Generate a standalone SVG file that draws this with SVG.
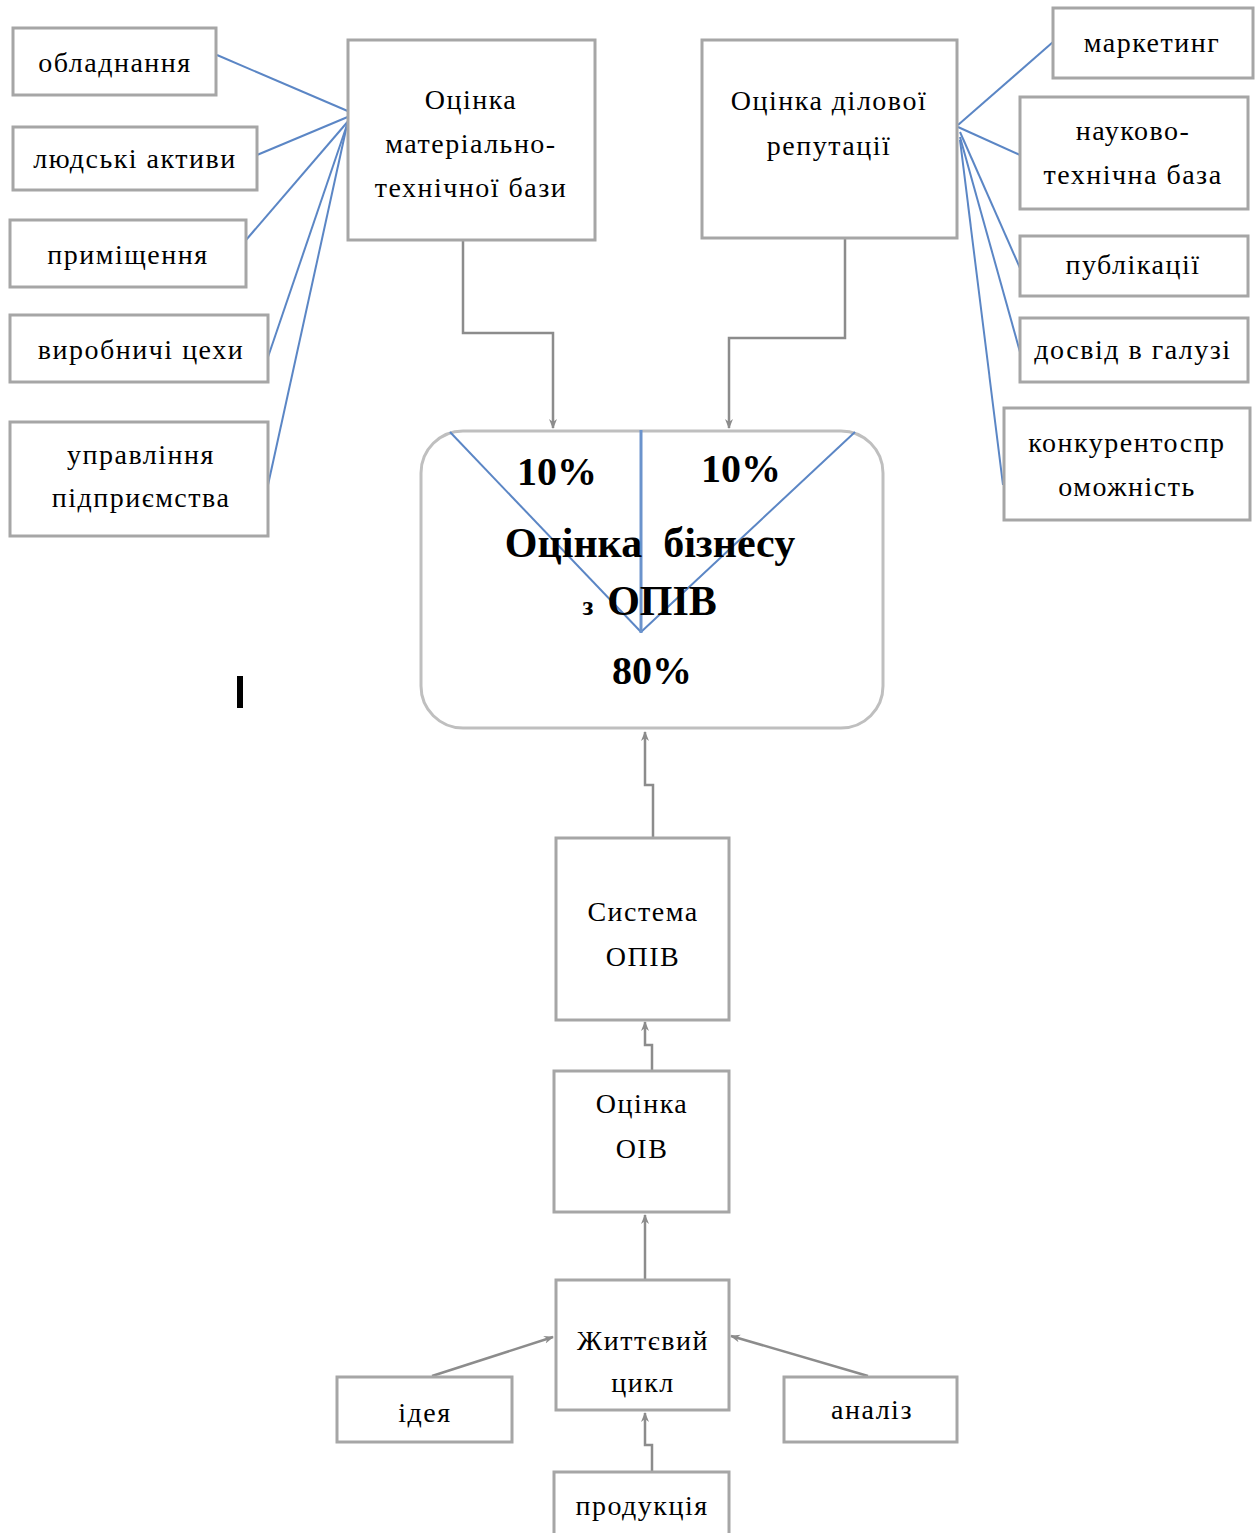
<svg xmlns="http://www.w3.org/2000/svg" width="1259" height="1533" viewBox="0 0 1259 1533">
<style>
.box{fill:#fff;stroke:#a6a6a6;stroke-width:3}
.t{font-family:"Liberation Serif","Times New Roman",serif;font-size:28px;letter-spacing:1.5px;fill:#000;text-anchor:middle}
.b{font-family:"Liberation Serif","Times New Roman",serif;font-weight:bold;fill:#000;text-anchor:middle}
.con{fill:none;stroke:#808080;stroke-width:3}
.arr{fill:none;stroke:#8c8c8c;stroke-width:2.5;marker-end:url(#ah)}
.blue{fill:none;stroke:#5b86c5;stroke-width:2}
</style>
<defs>
<marker id="ah" viewBox="0 0 10 10" refX="9" refY="5" markerWidth="4" markerHeight="4" orient="auto" markerUnits="strokeWidth">
<path d="M0,1 L10,5 L0,9 L3,5 z" fill="#8c8c8c"/>
</marker>
</defs>
<rect width="1259" height="1533" fill="#fff"/>

<g id="connectors">
<polyline class="arr" points="463,241 463,333 553,333 553,428"/>
<polyline class="arr" points="845,239 845,338 729,338 729,428"/>
<polyline class="arr" points="653,838 653,785 645,785 645,732"/>
<polyline class="arr" points="652,1071 652,1045 645,1045 645,1022"/>
<polyline class="arr" points="645,1280 645,1215"/>
<polyline class="arr" points="432,1376 553,1337"/>
<polyline class="arr" points="868,1376 731,1336"/>
<polyline class="arr" points="652,1472 652,1445 645,1445 645,1413"/>
<g id="fan-left">
<line class="blue" x1="217" y1="55" x2="350" y2="112"/>
<line class="blue" x1="257" y1="155" x2="350" y2="116"/>
<line class="blue" x1="246" y1="240" x2="350" y2="119"/>
<line class="blue" x1="268" y1="357" x2="348" y2="122"/>
<line class="blue" x1="268" y1="485" x2="347" y2="125"/>
</g>
<g id="fan-right">
<line class="blue" x1="1053" y1="42" x2="958" y2="125"/>
<line class="blue" x1="1020" y1="155" x2="958" y2="127"/>
<line class="blue" x1="1020" y1="268" x2="960" y2="132"/>
<line class="blue" x1="1020" y1="352" x2="960" y2="137"/>
<line class="blue" x1="1003" y1="485" x2="960" y2="140"/>
</g>
</g>

<g id="n-obladnannia"><rect class="box" x="13" y="28" width="203" height="67"/><text class="t" x="115" y="72">обладнання</text></g>
<g id="n-liudski"><rect class="box" x="13" y="127" width="244" height="63"/><text class="t" x="135" y="168">людські активи</text></g>
<g id="n-prymishchennia"><rect class="box" x="10" y="220" width="236" height="67"/><text class="t" x="128" y="264">приміщення</text></g>
<g id="n-vyrobnychi"><rect class="box" x="10" y="315" width="258" height="67"/><text class="t" x="141" y="359">виробничі цехи</text></g>
<g id="n-upravlinnia"><rect class="box" x="10" y="422" width="258" height="114"/><text class="t" x="141" y="464">управління</text><text class="t" x="141" y="507">підприємства</text></g>

<g id="n-mat-tekh"><rect class="box" x="348" y="40" width="247" height="200"/><text class="t" x="471" y="109">Оцінка</text><text class="t" x="471" y="153">матеріально-</text><text class="t" x="471" y="197">технічної бази</text></g>
<g id="n-dilova"><rect class="box" x="702" y="40" width="255" height="198"/><text class="t" x="829" y="110">Оцінка ділової</text><text class="t" x="829" y="155">репутації</text></g>

<g id="n-marketynh"><rect class="box" x="1053" y="8" width="200" height="70"/><text class="t" x="1152" y="52">маркетинг</text></g>
<g id="n-naukovo"><rect class="box" x="1020" y="97" width="228" height="112"/><text class="t" x="1133" y="140">науково-</text><text class="t" x="1133" y="184">технічна база</text></g>
<g id="n-publikatsii"><rect class="box" x="1020" y="236" width="228" height="60"/><text class="t" x="1133" y="274">публікації</text></g>
<g id="n-dosvid"><rect class="box" x="1020" y="318" width="228" height="64"/><text class="t" x="1133" y="359">досвід в галузі</text></g>
<g id="n-konkurento"><rect class="box" x="1004" y="408" width="246" height="112"/><text class="t" x="1127" y="452">конкурентоспр</text><text class="t" x="1127" y="496">оможність</text></g>

<g id="n-otsinka-biznesu">
<rect x="421" y="431" width="462" height="297" rx="42" fill="#fff" stroke="#bfbfbf" stroke-width="3"/>
<line class="blue" x1="450" y1="432" x2="641" y2="632"/>
<line class="blue" x1="855" y1="432" x2="641" y2="632"/>
<line x1="641" y1="430" x2="641" y2="633" stroke="#6b93cc" stroke-width="3"/>
<text class="b" x="557" y="485" font-size="40">10%</text>
<text class="b" x="741" y="482" font-size="40">10%</text>
<text class="b" x="650" y="557" font-size="42" xml:space="preserve">Оцінка  бізнесу</text>
<text class="b" x="588" y="615" font-size="27">з</text>
<text class="b" x="662" y="615" font-size="42">ОПІВ</text>
<text class="b" x="652" y="684" font-size="40">80%</text>
</g>

<rect id="cursor-mark" x="237" y="676" width="6" height="32" fill="#000"/>

<g id="n-systema"><rect class="box" x="556" y="838" width="173" height="182"/><text class="t" x="643" y="921">Система</text><text class="t" x="643" y="966">ОПІВ</text></g>
<g id="n-otsinka-oiv"><rect class="box" x="554" y="1071" width="175" height="141"/><text class="t" x="642" y="1113">Оцінка</text><text class="t" x="642" y="1158">ОІВ</text></g>
<g id="n-zhyttievyi"><rect class="box" x="556" y="1280" width="173" height="130"/><text class="t" x="643" y="1350">Життєвий</text><text class="t" x="643" y="1392">цикл</text></g>
<g id="n-ideia"><rect class="box" x="337" y="1377" width="175" height="65"/><text class="t" x="425" y="1422">ідея</text></g>
<g id="n-analiz"><rect class="box" x="784" y="1377" width="173" height="65"/><text class="t" x="872" y="1419">аналіз</text></g>
<g id="n-produktsiia"><rect class="box" x="554" y="1472" width="175" height="70"/><text class="t" x="642" y="1515">продукція</text></g>
</svg>
